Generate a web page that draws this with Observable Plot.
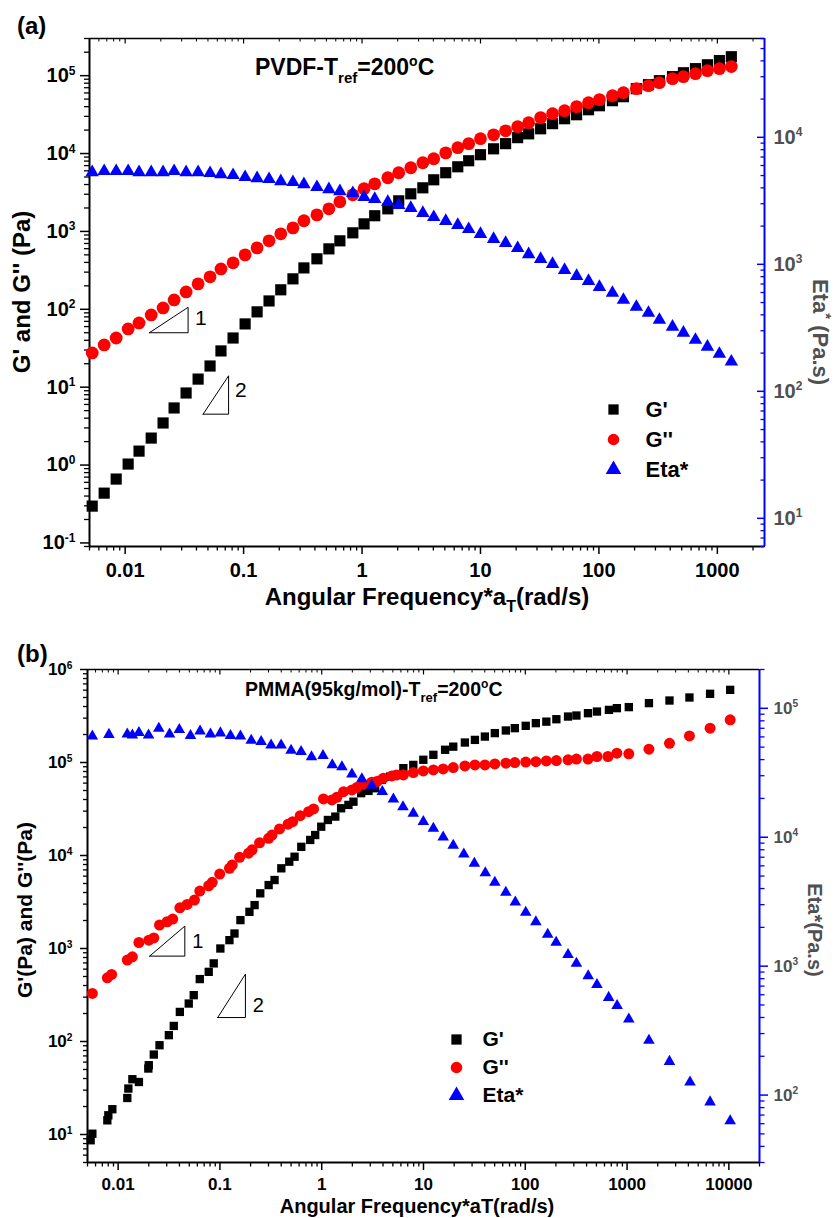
<!DOCTYPE html>
<html>
<head>
<meta charset="utf-8">
<script src="https://cdn.jsdelivr.net/npm/d3@7"></script>
<script src="https://cdn.jsdelivr.net/npm/@observablehq/plot@0.6"></script>
<style>
  html, body { margin: 0; padding: 0; background: #fff; }
  #page { position: relative; width: 838px; height: 1218px; overflow: hidden; background: #fff; }
  .layer { position: absolute; left: 0; width: 838px; height: 609px; }
  .layer > svg { position: absolute; left: 0; top: 0; }
  .legend { position: absolute; }
</style>
</head>
<body>
<div id="page"></div>
<script>
// ---------- (a) PVDF master curve, Tref = 200 °C ----------
const freqA = [0.00527, 0.00665, 0.0084, 0.0106, 0.0131, 0.0166, 0.0209, 0.0259, 0.0327, 0.0413,
  0.0521, 0.0644, 0.0815, 0.103, 0.130, 0.164, 0.206, 0.261, 0.323, 0.416,
  0.525, 0.650, 0.836, 1.04, 1.28, 1.65, 2.04, 2.58, 3.26, 4.03,
  5.09, 6.43, 7.95, 10.0, 12.9, 16.3, 20.6, 25.5, 32.2, 40.6,
  51.3, 64.8, 81.7, 101, 130, 161, 207, 262, 324, 418,
  517, 653, 824, 1040, 1312];
const storageA = [0.297, 0.436, 0.661, 1.03, 1.51, 2.22, 3.47, 5.41, 8.42, 12.7,
  18.7, 29.2, 42.8, 64.9, 92.7, 128, 178, 246, 340, 445,
  597, 757, 959, 1250, 1590, 1950, 2470, 3040, 3630, 4600,
  5670, 6760, 8080, 9660, 11500, 13400, 16000, 17900, 20800, 24200,
  28000, 31500, 36500, 41100, 47700, 53700, 68000, 76600, 86200, 97100,
  109000, 123000, 138000, 156000, 175000];
const lossA = [27.5, 34.9, 42.8, 56.0, 66.8, 84.7, 104, 132, 167, 212,
  261, 330, 395, 500, 615, 757, 931, 1110, 1370, 1630,
  1950, 2400, 2950, 3530, 4090, 4890, 5670, 6570, 7620, 8570,
  10200, 11900, 13400, 15500, 17400, 19600, 22100, 24900, 28900, 32500,
  35500, 40000, 45000, 49200, 55300, 60400, 68000, 74400, 81300, 91500,
  97100, 106000, 116000, 123000, 131000];
const etaA = [5310, 5410, 5410, 5410, 5310, 5310, 5310, 5410, 5310, 5310,
  5220, 5120, 5030, 4850, 4760, 4680, 4510, 4430, 4270, 4050,
  3900, 3760, 3630, 3380, 3260, 3090, 2920, 2770, 2530, 2350,
  2190, 2040, 1890, 1730, 1580, 1470, 1340, 1200, 1100, 1005,
  902, 809, 739, 663, 595, 524, 462, 414, 365, 322,
  289, 254, 224, 197, 171];

// ---------- (b) PMMA (95 kg/mol) master curve, Tref = 200 °C ----------
const freqB_storage = [0.00537, 0.00558, 0.00783, 0.00801, 0.00877, 0.0123, 0.0126, 0.0138, 0.0160, 0.0198,
  0.0200, 0.0224, 0.0255, 0.0315, 0.0352, 0.0404, 0.0494, 0.0553, 0.0634, 0.0776,
  0.0869, 0.101, 0.124, 0.139, 0.159, 0.195, 0.219, 0.249, 0.301, 0.344,
  0.401, 0.480, 0.541, 0.630, 0.771, 0.863, 0.989, 1.15, 1.36, 1.55,
  1.83, 2.05, 2.44, 2.88, 3.35, 3.89, 4.70, 5.46, 6.34, 7.94,
  9.96, 12.5, 16.3, 19.6, 25.5, 32.0, 40.1, 50.2, 64.4, 78.9,
  101, 127, 161, 202, 263, 318, 413, 506, 663, 794,
  1040, 1640, 2610, 4100, 6540, 10300];
const storageB = [8.67, 10.2, 14.2, 16.1, 18.7, 24.7, 31.2, 39.3, 36.7, 51.2,
  55.6, 72.4, 91.2, 117, 147, 208, 256, 315, 469, 561,
  692, 1000, 1230, 1450, 2020, 2480, 2930, 3920, 4810, 5450,
  7280, 8580, 9700, 12400, 14700, 16600, 20400, 24100, 26200, 32200,
  35000, 37900, 46800, 49500, 52900, 65000, 70500, 73600, 86900, 94200,
  107000, 121000, 137000, 148000, 164000, 175000, 190000, 207000, 221000, 234000,
  248000, 265000, 275000, 292000, 312000, 320000, 339000, 353000, 368000, 384000,
  394000, 435000, 464000, 500000, 548000, 604000];
const freqB_loss = [0.00558, 0.00783, 0.00863, 0.0123, 0.0138, 0.0160, 0.0200, 0.0224, 0.0255, 0.0303,
  0.0344, 0.0404, 0.0476, 0.0562, 0.0634, 0.0776, 0.0840, 0.0995, 0.124, 0.132,
  0.156, 0.191, 0.207, 0.245, 0.301, 0.325, 0.385, 0.467, 0.518, 0.615,
  0.743, 0.832, 1.04, 1.26, 1.41, 1.64, 1.98, 2.21, 2.57, 3.10,
  3.48, 4.04, 4.88, 5.46, 6.34, 7.94, 9.96, 12.5, 15.6, 19.6,
  25.5, 32.0, 40.1, 50.2, 64.4, 78.9, 101, 127, 161, 202,
  263, 318, 413, 506, 649, 794, 1040, 1640, 2610, 4100,
  6540, 10300];
const lossB = [329, 484, 526, 750, 815, 1160, 1230, 1300, 1790, 1940,
  2070, 2740, 2980, 3320, 4150, 4730, 5150, 6320, 7280, 7900,
  9570, 10600, 11500, 13700, 15300, 16600, 19300, 21700, 23100, 26800,
  29600, 31700, 40600, 39600, 42300, 48600, 50700, 53700, 58400, 61400,
  62300, 67800, 71800, 73600, 73600, 77900, 81200, 83300, 85300, 88100,
  91900, 94200, 94200, 96600, 98300, 99800, 101000, 102000, 104000, 105000,
  107000, 109000, 109000, 116000, 116000, 126000, 124000, 139000, 161000, 193000,
  234000, 288000];
const freqB_eta = [0.00558, 0.00812, 0.0123, 0.0138, 0.0160, 0.0199, 0.0251, 0.0320, 0.0399, 0.0514,
  0.0638, 0.0807, 0.101, 0.127, 0.159, 0.203, 0.254, 0.318, 0.399, 0.500,
  0.627, 0.794, 1.03, 1.27, 1.58, 1.98, 2.48, 3.10, 3.94, 5.06,
  6.29, 7.94, 9.96, 12.5, 15.6, 19.6, 24.9, 31.6, 40.5, 50.2,
  64.4, 79.8, 101, 127, 166, 201, 263, 318, 415, 506,
  659, 798, 1040, 1640, 2610, 4150, 6540, 10300];
const etaB = [60900, 62600, 63100, 62000, 64800, 62000, 69900, 63100, 68400, 61400,
  66600, 63100, 64300, 61400, 60900, 56400, 55200, 51800, 51800, 47100,
  46100, 42000, 42900, 36400, 35100, 30800, 28300, 25200, 22600, 19700,
  17200, 15300, 13200, 11700, 10000, 8650, 7390, 6270, 5290, 4460,
  3730, 3130, 2610, 2200, 1760, 1530, 1230, 1050, 839, 718,
  571, 493, 388, 265, 182, 126, 88.3, 63.0];

// ---------- axis ticks ----------
const xTicksA = [0.01, 0.1, 1, 10, 100, 1000];
const xTickLabelsA = ["0.01", "0.1", "1", "10", "100", "1000"];
const xTicksB = [0.01, 0.1, 1, 10, 100, 1000, 10000];
const xTickLabelsB = ["0.01", "0.1", "1", "10", "100", "1000", "10000"];
const yTicksA = [0.1, 1, 10, 100, 1e3, 1e4, 1e5];
const etaTicksA = [10, 100, 1e3, 1e4];
const yTicksB = [10, 100, 1e3, 1e4, 1e5, 1e6];
const etaTicksB = [100, 1e3, 1e4, 1e5];

// ---------- legend and slope guides ----------
const legendNames = ["G'", "G''", "Eta*"];
const seriesColors = ["#000000", "#ff0000", "#0000ff"];
const seriesSymbols = ["square", "circle", "triangle"];

const slopeOneA = [[0.016, 50], [0.034, 50], [0.034, 106], [0.016, 50]];
const slopeTwoA = [[0.0455, 4.5], [0.0747, 4.5], [0.0747, 14], [0.0455, 4.5]];
const slopeLabelsA = [{f: 0.0435, v: 76, t: "1"}, {f: 0.0946, v: 9.0, t: "2"}];
const slopeOneB = [[0.0204, 828], [0.0452, 828], [0.0452, 1740], [0.0204, 828]];
const slopeTwoB = [[0.0951, 181], [0.178, 181], [0.178, 530], [0.0951, 181]];
const slopeLabelsB = [{f: 0.0605, v: 1180, t: "1"}, {f: 0.238, v: 246, t: "2"}];

const FONT = '"Liberation Sans", Arial, Helvetica, sans-serif';
const GREY = "#505050";
const SVGNS = "http://www.w3.org/2000/svg";

const pts = (fs, vs) => fs.map((f, i) => ({f, v: vs[i]}));

// minor log ticks (2..9 × 10^k) inside a domain
function minorTicks([lo, hi]) {
  const out = [];
  for (let e = Math.floor(Math.log10(lo)); e <= Math.ceil(Math.log10(hi)); e++) {
    for (let m = 2; m <= 9; m++) {
      const v = +(m * Math.pow(10, e)).toPrecision(3);
      if (v >= lo && v <= hi) out.push(v);
    }
  }
  return out;
}

const powLabel = d => "10^" + Math.round(Math.log10(d));

// turn "10^k" tick labels into 10 with a raised exponent
function raiseExponents(svg) {
  svg.querySelectorAll("text").forEach(t => {
    const m = /^10\^(-?\d+)$/.exec(t.textContent);
    if (!m) return;
    t.textContent = "10";
    const s = document.createElementNS(SVGNS, "tspan");
    s.setAttribute("font-size", "0.6em");
    s.setAttribute("dy", "-0.62em");
    s.textContent = m[1];
    t.appendChild(s);
  });
}

const noText = () => "";

function buildPanel(c) {
  const layer = document.createElement("div");
  layer.className = "layer";
  layer.style.top = c.top + "px";
  document.getElementById("page").appendChild(layer);

  const base = {
    width: 838, height: 609,
    marginTop: c.mt, marginRight: c.mr, marginBottom: c.mb, marginLeft: c.ml,
    style: {fontFamily: FONT, fontWeight: "bold", background: "transparent", overflow: "visible"}
  };
  const xMinor = minorTicks(c.xDomain);
  const yMinor = minorTicks(c.yDomain);
  const eMinor = minorTicks(c.etaDomain);
  const xFmt = d => c.xLabels[c.xTicks.indexOf(d)] ?? "";

  // moduli on the left axis
  const moduli = Plot.plot({
    ...base,
    x: {type: "log", domain: c.xDomain, axis: null},
    y: {type: "log", domain: c.yDomain, axis: null},
    marks: [
      Plot.axisX({ticks: xMinor, tickSize: 4.5, strokeWidth: 1.3, tickFormat: noText, label: null}),
      Plot.axisX({ticks: c.xTicks, tickSize: 8, strokeWidth: 1.5, tickFormat: noText, label: null}),
      Plot.axisX({ticks: c.xTicks, tickSize: 0, tickPadding: c.xPad, tickFormat: xFmt, fontSize: c.xFont, label: null}),
      Plot.axisX({anchor: "top", ticks: xMinor, tickSize: -2.5, strokeWidth: 1, tickFormat: noText, label: null}),
      Plot.axisX({anchor: "top", ticks: c.xTicks, tickSize: -4.5, strokeWidth: 1.2, tickFormat: noText, label: null}),
      Plot.axisY({ticks: yMinor, tickSize: c.yMinorSize, strokeWidth: 1.3, tickFormat: noText, label: null}),
      Plot.axisY({ticks: c.yTicks, tickSize: c.yMajorSize, strokeWidth: 1.5, tickFormat: noText, label: null}),
      Plot.axisY({ticks: c.yTicks, tickSize: 0, tickPadding: c.yPad, tickFormat: powLabel, fontSize: c.yFont, label: null}),
      Plot.ruleX([c.xDomain[0]], {stroke: "black", strokeWidth: 2}),
      Plot.ruleY([c.yDomain[0]], {stroke: "black", strokeWidth: 2}),
      Plot.ruleY([c.yDomain[1]], {stroke: "black", strokeWidth: 1.5}),
      Plot.line(c.slopeOne, {x: d => d[0], y: d => d[1], stroke: "black", strokeWidth: 1}),
      Plot.line(c.slopeTwo, {x: d => d[0], y: d => d[1], stroke: "black", strokeWidth: 1}),
      Plot.text(c.slopeLabels, {x: "f", y: "v", text: "t", fontSize: c.slopeFont, fontWeight: "normal", fill: "black"}),
      Plot.dot(c.storage, {x: "f", y: "v", symbol: "square", fill: seriesColors[0], r: c.rSquare}),
      Plot.dot(c.loss, {x: "f", y: "v", symbol: "circle", fill: seriesColors[1], r: c.rCircle})
    ]
  });
  raiseExponents(moduli);
  layer.appendChild(moduli);

  // complex viscosity on the right (blue) axis
  const viscosity = Plot.plot({
    ...base,
    x: {type: "log", domain: c.xDomain, axis: null},
    y: {type: "log", domain: c.etaDomain, axis: null},
    marks: [
      Plot.axisY({anchor: "right", ticks: eMinor, tickSize: c.eMinorSize, stroke: "blue", strokeWidth: 1.3, tickFormat: noText, label: null}),
      Plot.axisY({anchor: "right", ticks: c.etaTicks, tickSize: c.eMajorSize, stroke: "blue", strokeWidth: 1.5, tickFormat: noText, label: null}),
      Plot.axisY({anchor: "right", ticks: c.etaTicks, tickSize: 0, tickPadding: c.ePad, tickFormat: powLabel, fill: GREY, fontSize: c.yFont, label: null}),
      Plot.ruleX([c.xDomain[1]], {stroke: "blue", strokeWidth: 2}),
      Plot.dot(c.eta, {x: "f", y: "v", symbol: "triangle", fill: seriesColors[2], r: c.rTriangle})
    ]
  });
  raiseExponents(viscosity);
  layer.appendChild(viscosity);

  // legend
  const legend = Plot.plot({
    width: 150, height: c.legendH, margin: 0,
    style: {fontFamily: FONT, fontWeight: "bold", background: "transparent", overflow: "visible"},
    y: {type: "point", domain: legendNames, range: c.legendRange, padding: 0, axis: null},
    color: {domain: legendNames, range: seriesColors},
    symbol: {domain: legendNames, range: seriesSymbols},
    marks: [
      Plot.dot(legendNames, {y: d => d, frameAnchor: "left", dx: 8, symbol: d => d, fill: d => d, r: c.legendR}),
      Plot.text(legendNames, {y: d => d, frameAnchor: "left", dx: c.legendTextX, text: d => d, textAnchor: "start", fontSize: c.legendFont, fill: "black"})
    ]
  });
  legend.classList.add("legend");
  legend.style.left = c.legendLeft + "px";
  legend.style.top = (c.legendTop - c.top) + "px";
  layer.appendChild(legend);
}

buildPanel({
  top: 0, mt: 38, mr: 74, mb: 63, ml: 89,
  xDomain: [0.005, 2500], yDomain: [0.09, 3e5], etaDomain: [6, 6e4],
  xTicks: xTicksA, xLabels: xTickLabelsA, yTicks: yTicksA, etaTicks: etaTicksA,
  xPad: 16, xFont: 20, yPad: 14, yFont: 20, ePad: 9,
  yMajorSize: 9, yMinorSize: 5, eMajorSize: -8, eMinorSize: -4.5,
  storage: pts(freqA, storageA), loss: pts(freqA, lossA), eta: pts(freqA, etaA),
  rSquare: 6.3, rCircle: 6.4, rTriangle: 5.0,
  slopeOne: slopeOneA, slopeTwo: slopeTwoA, slopeLabels: slopeLabelsA, slopeFont: 21,
  legendLeft: 605, legendTop: 398, legendH: 82, legendRange: [10, 71], legendR: 5.8, legendTextX: 40, legendFont: 22
});

buildPanel({
  top: 609, mt: 60, mr: 79, mb: 56, ml: 87,
  xDomain: [0.005, 20000], yDomain: [5, 1e6], etaDomain: [30, 2e5],
  xTicks: xTicksB, xLabels: xTickLabelsB, yTicks: yTicksB, etaTicks: etaTicksB,
  xPad: 15, xFont: 17, yPad: 15, yFont: 17, ePad: 14,
  yMajorSize: 7, yMinorSize: 4, eMajorSize: 8, eMinorSize: 4.5,
  storage: pts(freqB_storage, storageB), loss: pts(freqB_loss, lossB), eta: pts(freqB_eta, etaB),
  rSquare: 4.7, rCircle: 5.5, rTriangle: 4.3,
  slopeOne: slopeOneB, slopeTwo: slopeTwoB, slopeLabels: slopeLabelsB, slopeFont: 20,
  legendLeft: 448, legendTop: 1028, legendH: 78, legendRange: [10, 67], legendR: 5.8, legendTextX: 34, legendFont: 21
});

// ---------- titles and axis names ----------
const ov = d3.select("#page").append("svg")
  .attr("width", 838).attr("height", 1218)
  .style("position", "absolute").style("left", 0).style("top", 0)
  .attr("font-family", FONT).attr("font-weight", "bold");

// parts: [text, kind, fontSize, shift]  kind = "sub" | "sup" | undefined
function richText(x, y, parts, size, opt = {}) {
  const t = ov.append("text").attr("x", x).attr("y", y)
    .attr("font-size", size).attr("text-anchor", opt.anchor || "start")
    .attr("fill", opt.fill || "black");
  if (opt.rotate) t.attr("transform", `rotate(${opt.rotate},${x},${y})`);
  let cur = 0;
  for (const [s, kind, fs, shift] of parts) {
    const target = kind === "sub" ? shift : kind === "sup" ? -shift : 0;
    const sp = t.append("tspan").attr("dy", target - cur).text(s);
    if (fs) sp.attr("font-size", fs);
    cur = target;
  }
}

// panel (a)
richText(17, 34, [["(a)"]], 24);
richText(255, 75, [["PVDF-T"], ["ref", "sub", 15, 8], ["=200"], ["o", "sup", 14, 9], ["C"]], 23);
richText(30, 292, [["G' and G'' (Pa)"]], 24, {anchor: "middle", rotate: -90});
richText(427, 605, [["Angular Frequency*a"], ["T", "sub", 16, 7], ["(rad/s)"]], 24, {anchor: "middle"});
richText(813, 332, [["Eta"], ["*", "sup", 15, 8], [" (Pa.s)"]], 22, {anchor: "middle", rotate: 90, fill: GREY});

// panel (b)
richText(17, 662, [["(b)"]], 24);
richText(245, 696, [["PMMA(95kg/mol)-T"], ["ref", "sub", 13, 6], ["=200"], ["o", "sup", 12, 8], ["C"]], 19.5);
richText(32, 910, [["G'(Pa) and G''(Pa)"]], 21, {anchor: "middle", rotate: -90});
richText(417, 1213, [["Angular Frequency*aT(rad/s)"]], 20, {anchor: "middle"});
richText(808, 930, [["Eta*(Pa.s)"]], 20, {anchor: "middle", rotate: 90, fill: GREY});
</script>
</body>
</html>
